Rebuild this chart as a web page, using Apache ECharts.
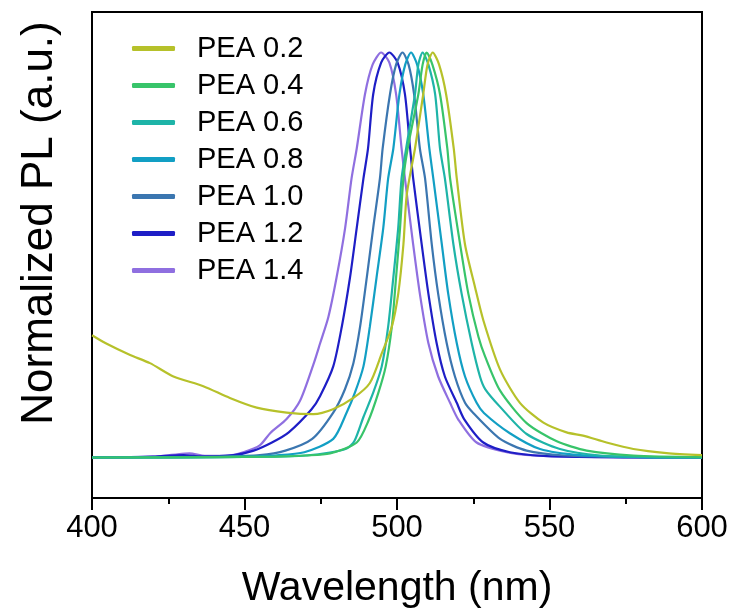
<!DOCTYPE html>
<html>
<head>
<meta charset="utf-8">
<script src="https://cdn.jsdelivr.net/npm/echarts@6/dist/echarts.min.js"></script>
<style>
html,body{margin:0;padding:0;background:#fff;}
#chart{width:734px;height:614px;}
</style>
</head>
<body>
<div id="chart"></div>
<script>
// Series names
var seriesNames = ['PEA 0.2','PEA 0.4','PEA 0.6','PEA 0.8','PEA 1.0','PEA 1.2','PEA 1.4'];
var seriesColors = ['#b6c12a','#38c46a','#1eb4a8','#129fc4','#3b76b0','#1e1ec6','#8f6fe0'];

// Tick labels on x axis
var xTicks = [400, 450, 500, 550, 600];

// [wavelength nm, normalized PL]
var pea02 = [[400,0.302],[405,0.28],[412.5,0.253],[419,0.233],[426.7,0.2],[436.5,0.176],[445.2,0.147],[454,0.123],[463.8,0.111],[472.6,0.107],[479,0.119],[485.7,0.147],[491.1,0.184],[495,0.257],[498.3,0.323],[500.4,0.404],[502.1,0.526],[503.2,0.649],[505.9,0.763],[508.6,0.897],[510,0.97],[511.7,1.0],[513.8,0.97],[516.1,0.897],[518.6,0.763],[519.6,0.689],[522.3,0.526],[525.6,0.42],[528.3,0.339],[533.8,0.217],[540.3,0.135],[548,0.086],[555.6,0.062],[561,0.054],[568.7,0.037],[577.5,0.021],[588.4,0.011],[600,0.006]];
var pea04 = [[400,0],[440,0.001],[460,0.002],[470,0.005],[478,0.01],[486.8,0.037],[490.6,0.09],[493.9,0.16],[496.3,0.225],[498.3,0.323],[499.7,0.445],[501,0.567],[502.1,0.689],[503.5,0.763],[507,0.897],[508.4,0.97],[509.7,1.0],[511.6,0.97],[514.1,0.897],[516.5,0.763],[517.4,0.689],[520.7,0.526],[523.4,0.404],[526.7,0.298],[528.9,0.249],[533.8,0.165],[542.5,0.085],[552.4,0.04],[562.2,0.017],[577.5,0.005],[600,0.001]];
var pea06 = [[400,0],[440,0.001],[460,0.002],[470,0.005],[478,0.012],[483.5,0.022],[486,0.04],[489,0.1],[492.2,0.16],[495,0.225],[497.1,0.323],[498.8,0.445],[500.4,0.567],[501.5,0.689],[503,0.763],[505.9,0.897],[507,0.97],[508.4,1.0],[510.3,0.97],[512.5,0.897],[514.1,0.763],[515.7,0.689],[518.5,0.526],[521.2,0.404],[524.5,0.282],[527.2,0.2],[528.9,0.169],[533.8,0.125],[542.5,0.058],[553.4,0.021],[566.6,0.005],[585,0.001],[600,0]];
var pea08 = [[400,0],[440,0.001],[450,0.002],[460,0.005],[469.6,0.013],[479.1,0.046],[483.5,0.111],[486.2,0.16],[489,0.225],[491.1,0.323],[493.3,0.445],[495.5,0.567],[497.1,0.689],[498.8,0.763],[500.8,0.897],[502.7,0.97],[504.6,1.0],[506.6,0.97],[508.6,0.897],[510.6,0.763],[511.9,0.689],[514.7,0.526],[516.8,0.404],[519.6,0.282],[522.3,0.2],[526.1,0.135],[528.5,0.11],[537,0.06],[546.9,0.021],[560,0.006],[580,0.001],[600,0]];
var pea10 = [[400,0],[430,0.001],[440,0.002],[455,0.006],[463.4,0.017],[472.2,0.046],[479.1,0.111],[482.9,0.168],[485.7,0.233],[487.9,0.323],[490.1,0.445],[492.2,0.567],[494.4,0.689],[495.3,0.763],[497.7,0.897],[499.7,0.97],[501.8,1.0],[503.8,0.97],[505.6,0.897],[507.5,0.763],[509.2,0.689],[511.4,0.526],[513.5,0.404],[516.3,0.282],[519,0.2],[522.3,0.135],[525,0.11],[533.8,0.046],[542.5,0.017],[555,0.005],[575,0.001],[600,0]];
var pea12 = [[400,0],[420,0.002],[430,0.006],[435,0.003],[446.5,0.006],[453,0.017],[459,0.037],[464.5,0.062],[472,0.119],[474.8,0.152],[479.1,0.225],[481.9,0.323],[484.6,0.445],[486.8,0.567],[489,0.689],[490.5,0.763],[492.2,0.897],[494.8,0.975],[497.5,1.0],[500.2,0.975],[502.6,0.897],[504.3,0.763],[505.3,0.689],[508.1,0.526],[510.3,0.404],[513,0.282],[515.7,0.2],[519.6,0.135],[522,0.095],[528.3,0.037],[537,0.013],[548,0.004],[565,0.001],[600,0]];
var pea14 = [[400,0],[410,0],[420,0.002],[428,0.008],[432,0.01],[437,0.004],[445,0.005],[449.6,0.013],[455,0.03],[458.4,0.06],[463.8,0.095],[468.2,0.14],[472.6,0.23],[474.8,0.282],[477.5,0.347],[480.2,0.445],[483,0.567],[485.1,0.689],[486.8,0.763],[489.5,0.897],[492,0.97],[494.8,1.0],[497.5,0.975],[499.7,0.897],[501.5,0.763],[502.6,0.689],[505.3,0.526],[507.5,0.404],[510.3,0.282],[513.5,0.2],[517.4,0.135],[520,0.095],[526.1,0.037],[536,0.013],[545,0.005],[560,0.002],[580,0],[600,0]];

var seriesData = [pea02, pea04, pea06, pea08, pea10, pea12, pea14];

var FONT = 'Liberation Sans, Arial, sans-serif';

var chart = echarts.init(document.getElementById('chart'), null, {renderer:'canvas'});

var series = seriesNames.map(function(name, i){
  return {
    name: name,
    type: 'line',
    data: seriesData[i],
    symbol: 'none',
    smooth: 0.25,
    lineStyle: {width: 2.2, color: seriesColors[i]},
    itemStyle: {color: seriesColors[i]},
    z: 10 - i
  };
});

chart.setOption({
  animation: false,
  backgroundColor: '#ffffff',
  grid: {left: 92, right: 32, top: 12, bottom: 111, show: true, borderColor: '#000', borderWidth: 2, backgroundColor: 'transparent'},
  legend: {
    data: seriesNames,
    orient: 'vertical',
    left: 132,
    top: 34,
    padding: 0,
    itemGap: 8,
    itemWidth: 43,
    itemHeight: 5,
    icon: 'roundRect',
    textStyle: {fontFamily: FONT, fontSize: 29, color: '#000', lineHeight: 29, padding: [0,0,0,17]}
  },
  xAxis: {
    type: 'value',
    min: 400, max: 600, interval: 50,
    axisLine: {show: true, onZero: false, lineStyle: {color: '#000', width: 2}},
    axisTick: {show: true, inside: false, length: 12, lineStyle: {color: '#000', width: 2}},
    minorTick: {show: true, splitNumber: 2, length: 6, lineStyle: {color: '#000', width: 2}},
    splitLine: {show: false},
    axisLabel: {fontFamily: FONT, fontSize: 31, color: '#000', margin: 15,
      formatter: function(v){ return xTicks.indexOf(v) >= 0 ? String(v) : ''; }},
    name: 'Wavelength (nm)',
    nameLocation: 'middle',
    nameGap: 70,
    nameTextStyle: {fontFamily: FONT, fontSize: 41, color: '#000'}
  },
  yAxis: {
    type: 'value',
    min: -0.1, max: 1.1,
    axisLine: {show: true, onZero: false, lineStyle: {color: '#000', width: 2}},
    axisTick: {show: false},
    axisLabel: {show: false},
    splitLine: {show: false},
    name: 'Normalized PL (a.u.)',
    nameLocation: 'middle',
    nameGap: 30,
    nameTextStyle: {fontFamily: FONT, fontSize: 44, color: '#000', padding: [0,0,0,64]}
  },
  series: series
});
</script>
</body>
</html>
